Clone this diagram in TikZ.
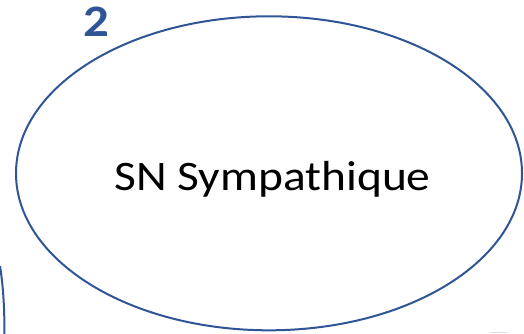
\documentclass[tikz,border=0pt]{standalone}
\usepackage{fontspec}
\setmainfont{Carlito}
\usetikzlibrary{shapes.geometric}
\definecolor{sysblue}{HTML}{2F5597}
\tikzset{bubble/.style={ellipse,draw=sysblue,line width=2pt,inner sep=0pt,minimum width=506pt,minimum height=314pt}}
\begin{document}
\begin{tikzpicture}[x=1pt,y=1pt]
\useasboundingbox (0,0) rectangle (524,-333);
\clip (0,0) rectangle (524,-333);
\node[bubble] (symp) at (269,-173.3) {};
\node[anchor=base] (sympname) at (272.5,-190) {\fontsize{42}{50}\selectfont\scalebox{1.13}[1]{SN Sympathique}};
\node[anchor=base,text=sysblue] (num) at (96.7,-36) {\fontsize{45}{54}\selectfont\bfseries\scalebox{1.13}[1]{2}};
\draw[sysblue,line width=2pt] (0,-266) .. controls (3,-285) and (4.5,-305) .. (4.5,-336);
\draw[sysblue!20,line width=1pt] (490,-332.8) -- (507,-332.8);
\end{tikzpicture}
\end{document}
